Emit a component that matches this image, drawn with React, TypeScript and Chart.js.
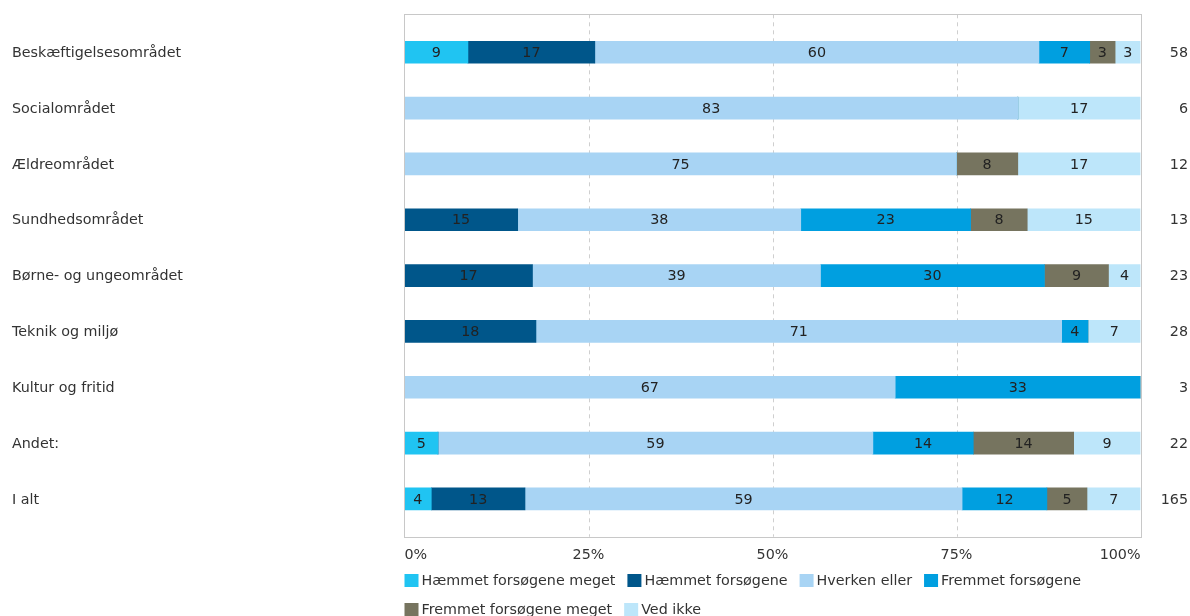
import React, { useEffect, useRef } from 'react';
import { Chart, registerables } from 'chart.js';

Chart.register(...registerables);

const FONT = '"DejaVu Sans", Verdana, sans-serif';
const FS = 14.3;

const categories = [
  'Beskæftigelsesområdet',
  'Socialområdet',
  'Ældreområdet',
  'Sundhedsområdet',
  'Børne- og ungeområdet',
  'Teknik og miljø',
  'Kultur og fritid',
  'Andet:',
  'I alt',
];

const totals = [58, 6, 12, 13, 23, 28, 3, 22, 165];

const seriesNames = [
  'Hæmmet forsøgene meget',
  'Hæmmet forsøgene',
  'Hverken eller',
  'Fremmet forsøgene',
  'Fremmet forsøgene meget',
  'Ved ikke',
];

// shares in percent per row
const haemmetMeget = [8.62, 0, 0, 0, 0, 0, 0, 4.55, 3.64];
const haemmet = [17.24, 0, 0, 15.38, 17.39, 17.86, 0, 0, 12.73];
const hverkenEller = [60.34, 83.33, 75, 38.46, 39.13, 71.43, 66.67, 59.09, 59.39];
const fremmet = [6.9, 0, 0, 23.08, 30.43, 3.57, 33.33, 13.64, 11.52];
const fremmetMeget = [3.45, 0, 8.33, 7.69, 8.7, 0, 0, 13.64, 5.45];
const vedIkke = [3.45, 16.67, 16.67, 15.38, 4.35, 7.14, 0, 9.09, 7.27];

const xTicks = [0, 25, 50, 75, 100];

const seriesValues = [haemmetMeget, haemmet, hverkenEller, fremmet, fremmetMeget, vedIkke];
const seriesColors = ['#20c4f2', '#00568a', '#a8d4f4', '#009fe0', '#76745f', '#bde6fa'];

const overlay = {
  id: 'overlay',
  beforeDatasetsDraw(chart: any) {
    const { ctx, chartArea } = chart;
    const xs = chart.scales.x;
    const top = chartArea.top - 10;
    const bottom = chartArea.bottom + 10;
    ctx.save();
    ctx.strokeStyle = '#cfcfcf';
    ctx.lineWidth = 1;
    ctx.setLineDash([4, 4]);
    [25, 50, 75].forEach((v) => {
      const x = Math.round(xs.getPixelForValue(v)) + 0.5;
      ctx.beginPath();
      ctx.moveTo(x, top);
      ctx.lineTo(x, bottom);
      ctx.stroke();
    });
    ctx.restore();
  },
  afterDatasetsDraw(chart: any) {
    const { ctx, chartArea } = chart;
    const ys = chart.scales.y;
    const top = chartArea.top - 10;
    const bottom = chartArea.bottom + 10;
    ctx.save();
    // frame
    ctx.strokeStyle = '#c8c8c8';
    ctx.lineWidth = 1;
    ctx.strokeRect(Math.round(chartArea.left) - 0.5, Math.round(top) + 0.5, Math.round(chartArea.right - chartArea.left) + 1, Math.round(bottom - top));

    ctx.font = FS + 'px ' + FONT;
    ctx.textBaseline = 'middle';

    // values inside segments
    ctx.fillStyle = '#222';
    ctx.textAlign = 'center';
    chart.data.datasets.forEach((ds: any, di: number) => {
      const meta = chart.getDatasetMeta(di);
      meta.data.forEach((bar: any, i: number) => {
        const v = ds.data[i];
        if (!v) return;
        const cx = (bar.x + bar.base) / 2;
        ctx.fillText(String(Math.round(v)), cx, bar.y + 1);
      });
    });

    // category labels and totals
    ctx.fillStyle = '#333';
    categories.forEach((c, i) => {
      const y = ys.getPixelForValue(i) + 1;
      ctx.textAlign = 'left';
      ctx.fillText(c, 12, y);
      ctx.textAlign = 'right';
      ctx.fillText(String(totals[i]), 1188, y);
    });

    // legend
    let x = 404.5;
    let rowTop = 574;
    ctx.textAlign = 'left';
    seriesNames.forEach((name, i) => {
      const tw = ctx.measureText(name).width;
      const w = 14 + 3 + tw;
      if (x + w > chartArea.right + 1) {
        x = 404.5;
        rowTop += 29;
      }
      ctx.fillStyle = seriesColors[i];
      ctx.fillRect(x, rowTop, 14, 13);
      ctx.fillStyle = '#333';
      ctx.fillText(name, x + 17, rowTop + 7);
      x += w + 12;
    });
    ctx.restore();
  },
};

export default function App() {
  const ref = useRef<HTMLCanvasElement | null>(null);
  useEffect(() => {
    if (!ref.current) return;
    const chart = new Chart(ref.current, {
      type: 'bar',
      data: {
        labels: categories,
        datasets: seriesNames.map((name, i) => ({
          label: name,
          data: seriesValues[i],
          backgroundColor: seriesColors[i],
          borderWidth: 0,
          barThickness: 22,
        })),
      },
      options: {
        indexAxis: 'y',
        animation: false,
        responsive: true,
        maintainAspectRatio: false,
        events: [],
        layout: { padding: { left: 404.5, right: 49.5, top: 24.3, bottom: 32 } },
        plugins: {
          legend: { display: false },
          tooltip: { enabled: false },
        },
        scales: {
          x: {
            stacked: true,
            min: 0,
            max: 100,
            afterBuildTicks: (scale: any) => {
              scale.ticks = xTicks.map((v) => ({ value: v }));
            },
            grid: { display: false, drawTicks: false },
            border: { display: false },
            ticks: {
              align: 'inner',
              padding: 20,
              color: '#333',
              font: { family: FONT, size: FS },
              callback: (v: any) => v + '%',
            },
          },
          y: {
            stacked: true,
            display: false,
          },
        },
      },
      plugins: [overlay],
    } as any);
    return () => chart.destroy();
  }, []);
  return (
    <div style={{ position: 'fixed', left: 0, top: 0, width: 1190, height: 616 }}>
      <canvas ref={ref} />
    </div>
  );
}
